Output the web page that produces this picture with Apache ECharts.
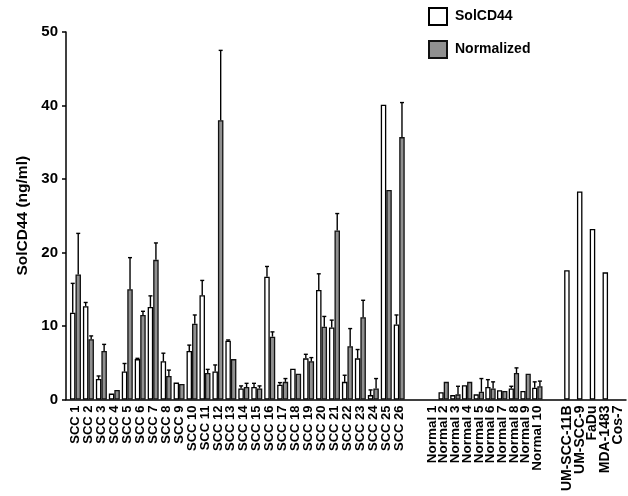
<!DOCTYPE html>
<html><head><meta charset="utf-8">
<script src="https://cdn.jsdelivr.net/npm/echarts@6/dist/echarts.min.js"></script>
<style>html,body{margin:0;padding:0;background:#fff}#c{width:628px;height:496px}</style>
</head><body><div id="c"></div>
<script>
const sccCategories = ['SCC 1','SCC 2','SCC 3','SCC 4','SCC 5','SCC 6','SCC 7','SCC 8','SCC 9','SCC 10','SCC 11','SCC 12','SCC 13','SCC 14','SCC 15','SCC 16','SCC 17','SCC 18','SCC 19','SCC 20','SCC 21','SCC 22','SCC 23','SCC 24','SCC 25','SCC 26'];
const sccSolCD44 =        [11.8, 12.7, 2.8, 0.8, 3.8, 5.5, 12.6, 5.2, 2.3, 6.6, 14.2, 3.8, 8.0, 1.5, 1.7, 16.7, 2.0, 4.2, 5.6, 14.9, 9.8, 2.4, 5.6, 0.6, 40.1, 10.2];
const sccSolCD44ErrTop =  [15.8, 13.2, 3.2, null, 4.9, 5.6, 14.1, 6.3, null, 7.4, 16.2, 4.7, 8.1, 1.85, 2.2, 18.1, 2.3, null, 6.15, 17.1, 10.8, 3.3, 6.8, 1.3, null, 11.5];
const sccNormalized =     [17.0, 8.2, 6.6, 1.3, 15.0, 11.5, 19.0, 3.2, 2.1, 10.3, 3.6, 38.0, 5.5, 1.7, 1.5, 8.55, 2.4, 3.5, 5.2, 9.9, 23.0, 7.25, 11.2, 1.5, 28.5, 35.7];
const sccNormalizedErrTop=[22.6, 8.65, 7.5, null, 19.3, 12.0, 21.3, 4.0, null, 11.5, 4.1, 47.5, null, 2.2, 1.85, 9.2, 2.85, null, 5.7, 11.3, 25.3, 9.65, 13.5, 2.85, null, 40.4];

const normalCategories = ['Normal 1','Normal 2','Normal 3','Normal 4','Normal 5','Normal 6','Normal 7','Normal 8','Normal 9','Normal 10'];
const normalSolCD44 =        [null, 1.0, 0.6, 1.95, 0.7, 1.7, 1.25, 1.5, 1.15, 1.6];
const normalSolCD44ErrTop =  [null, null, null, null, null, 2.7, null, 1.8, null, 2.4];
const normalNormalized =     [null, 2.4, 0.7, 2.4, 1.05, 1.5, 1.15, 3.6, 3.5, 1.8];
const normalNormalizedErrTop=[null, null, 1.8, null, 2.85, 2.4, null, 4.3, null, 2.5];

const cellCategories = ['UM-SCC-11B','UM-SCC-9','FaDu','MDA-1483','Cos-7'];
const cellSolCD44 = [17.6, 28.3, 23.2, 17.3, null];

const yMin = 0, yMax = 50, yInterval = 10;

const FONT = "'Liberation Sans', Arial, Helvetica, sans-serif";
const GRAY = '#909090';
const TOP = 32, H = 367.5;

function errRender(offset, cap){
  return function(params, api){
    const i = api.value(0), v = api.value(1), t = api.value(2);
    const p0 = api.coord([i, v]); const p1 = api.coord([i, t]);
    const x = p0[0] + offset;
    return {type:'group', children:[
      {type:'line', shape:{x1:x,y1:p0[1],x2:x,y2:p1[1]}, style:{stroke:'#000',lineWidth:1.4}},
      {type:'line', shape:{x1:x-cap,y1:p1[1],x2:x+cap,y2:p1[1]}, style:{stroke:'#000',lineWidth:1.4}}
    ]};
  };
}
function errData(vals, tops){
  const out = [];
  vals.forEach((v,i)=>{ if(v!=null && tops[i]!=null) out.push([i, v, tops[i]]); });
  return out;
}

const catAxis = (data, gi, fs) => ({
  type:'category', gridIndex:gi, data:data,
  axisLine:{show:false}, axisTick:{show:false}, splitLine:{show:false},
  axisLabel:{rotate:90, interval:0, fontSize:fs, fontWeight:'bold', color:'#000', margin:6, fontFamily:FONT}
});
const hiddenY = gi => ({type:'value', gridIndex:gi, min:yMin, max:yMax, interval:yInterval, show:false, splitLine:{show:false}});

const whiteStyle = {color:'#fff', borderColor:'#000', borderWidth:1.3};
const grayStyle = {color:GRAY, borderColor:'#111', borderWidth:1.3};

const option = {
  animation:false,
  backgroundColor:'#fff',
  legend:{
    orient:'vertical', left:428, top:7, padding:0, itemWidth:18, itemHeight:17, itemGap:14,
    icon:'rect',
    textStyle:{fontWeight:'bold', fontSize:14, color:'#000', fontFamily:FONT, padding:[0,0,0,3]},
    data:['SolCD44','Normalized'], selectedMode:false
  },
  grid:[
    {left:66, top:TOP, width:560, height:H},
    {left:69, top:TOP, width:336.7, height:H},
    {left:426.15, top:TOP, width:117, height:H},
    {left:560.5, top:TOP, width:64, height:H}
  ],
  xAxis:[
    {type:'value', gridIndex:0, min:0, max:1, axisLine:{show:true, onZero:false, lineStyle:{color:'#000', width:1.5}}, axisTick:{show:false}, axisLabel:{show:false}, splitLine:{show:false}},
    catAxis(sccCategories,1,13), catAxis(normalCategories,2,13.5), catAxis(cellCategories,3,14)
  ],
  yAxis:[
    {type:'value', gridIndex:0, min:yMin, max:yMax, interval:yInterval,
     axisLine:{show:true, lineStyle:{color:'#000', width:1.5}},
     axisTick:{show:true, length:4, lineStyle:{color:'#000', width:1.5}},
     axisLabel:{fontSize:15, fontWeight:'bold', color:'#000', margin:8, fontFamily:FONT},
     splitLine:{show:false},
     name:'SolCD44 (ng/ml)', nameLocation:'middle', nameGap:34,
     nameTextStyle:{fontSize:15.5, fontWeight:'bold', color:'#000', fontFamily:FONT}},
    hiddenY(1), hiddenY(2), hiddenY(3)
  ],
  series:[
    {name:'SolCD44', type:'bar', xAxisIndex:1, yAxisIndex:1, data:sccSolCD44, barWidth:5.5, barGap:'0%', itemStyle:whiteStyle},
    {name:'Normalized', type:'bar', xAxisIndex:1, yAxisIndex:1, data:sccNormalized, barWidth:5.5, barGap:'0%', itemStyle:grayStyle},
    {type:'custom', xAxisIndex:1, yAxisIndex:1, renderItem:errRender(-2.75,2), data:errData(sccSolCD44,sccSolCD44ErrTop), z:5},
    {type:'custom', xAxisIndex:1, yAxisIndex:1, renderItem:errRender(2.75,2), data:errData(sccNormalized,sccNormalizedErrTop), z:5},
    {name:'SolCD44', type:'bar', xAxisIndex:2, yAxisIndex:2, data:normalSolCD44, barWidth:5.2, barGap:'0%', itemStyle:whiteStyle},
    {name:'Normalized', type:'bar', xAxisIndex:2, yAxisIndex:2, data:normalNormalized, barWidth:5.2, barGap:'0%', itemStyle:grayStyle},
    {type:'custom', xAxisIndex:2, yAxisIndex:2, renderItem:errRender(-2.6,2), data:errData(normalSolCD44,normalSolCD44ErrTop), z:5},
    {type:'custom', xAxisIndex:2, yAxisIndex:2, renderItem:errRender(2.6,2), data:errData(normalNormalized,normalNormalizedErrTop), z:5},
    {name:'SolCD44', type:'bar', xAxisIndex:3, yAxisIndex:3, data:cellSolCD44, barWidth:5.5, itemStyle:whiteStyle}
  ]
};
const chart = echarts.init(document.getElementById('c'), null, {renderer:'canvas'});
chart.setOption(option);
</script>
</body></html>
